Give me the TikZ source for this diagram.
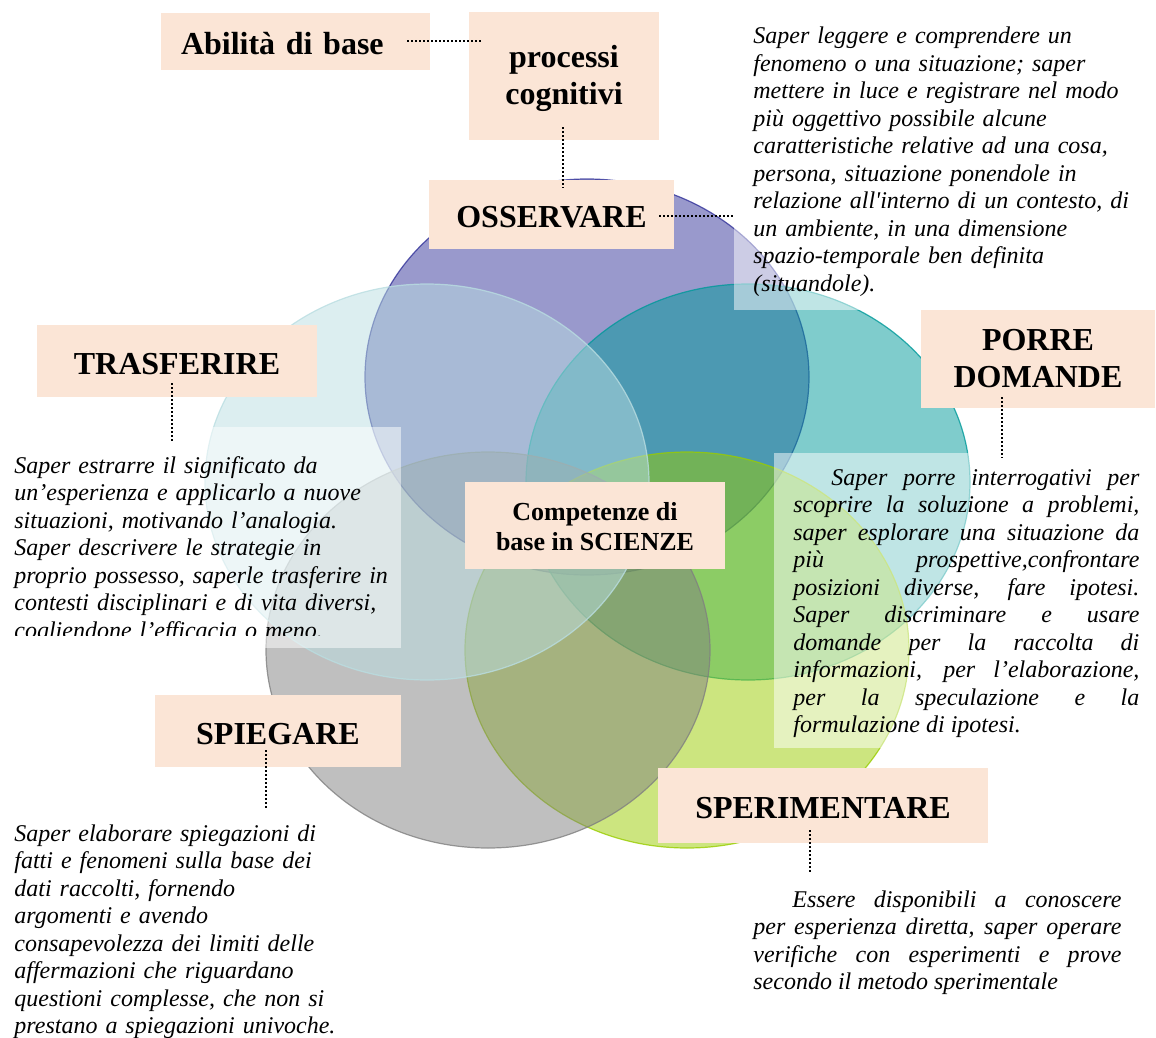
\documentclass[tikz,border=0pt]{standalone}
\usepackage{fontspec}
\setmainfont{Liberation Serif}
\usepackage{tikz}
\usetikzlibrary{calc}

\definecolor{peach}{RGB}{251,229,214}
\definecolor{vpurple}{RGB}{51,51,153}
\definecolor{vteal}{RGB}{0,153,153}
\definecolor{vgreen}{RGB}{153,204,0}
\definecolor{vgrey}{RGB}{128,128,128}
\definecolor{vlight}{RGB}{185,221,225}

\begin{document}
\begin{tikzpicture}[x=0.5pt, y=-0.5pt]
        \tikzset{
            set_circle/.style={fill opacity=0.5, draw opacity=0.8, line width=0.6pt},
            label_box/.style={fill=peach, inner sep=0pt, align=center, font=\fontsize{16pt}{18.5pt}\selectfont\bfseries},
            label_one/.style={label_box, text height=13.5pt},
            desc_text/.style={anchor=base west, inner sep=0pt, align=left, text width=190pt, font=\fontsize{12pt}{13.75pt}\selectfont\itshape},
            desc_just/.style={desc_text, align=justify},
            veil/.style={fill=white, fill opacity=0.5},
            dot_line/.style={line width=1pt, dash pattern=on 1pt off 1pt}
        }
        \useasboundingbox (0,0) rectangle (1156,1038);
        \path[set_circle, fill=vpurple, draw=vpurple] (587,377) ellipse [x radius=222, y radius=198];
        \path[set_circle, fill=vteal, draw=vteal] (748,482) ellipse [x radius=222, y radius=198];
        \path[set_circle, fill=vgreen, draw=vgreen] (687,650) ellipse [x radius=222, y radius=198];
        \path[set_circle, fill=vgrey, draw=vgrey] (488,650) ellipse [x radius=222, y radius=198];
        \path[set_circle, fill=vlight, draw=vlight] (427,482) ellipse [x radius=222, y radius=198];
        \fill[veil] (734,20) rectangle (1140,310);
        \fill[veil] (0,427) rectangle (401,648);
        \fill[veil] (774,453) rectangle (1150,748);
        \node[label_one, minimum width=134.5pt, minimum height=28.5pt, text width=114.5pt, align=left] (abil) at (295.5,41.5) {Abilità di base};
        \node[label_box, minimum width=95pt, minimum height=64pt] (proc) at (564,76) {\rule{0pt}{13.5pt}processi\\cognitivi};
        \node[label_one, minimum width=122.5pt, minimum height=34.5pt] (oss) at (551.5,214.5) {OSSERVARE};
        \node[label_one, minimum width=140pt, minimum height=36pt] (tras) at (177,361) {TRASFERIRE};
        \node[label_box, minimum width=117pt, minimum height=49pt] (porre) at (1038,359) {PORRE\\DOMANDE};
        \node[label_one, minimum width=123pt, minimum height=36pt] (spieg) at (278,731) {SPIEGARE};
        \node[label_one, minimum width=165pt, minimum height=37.5pt] (sper) at (823,805.5) {SPERIMENTARE};
        \node[label_box, minimum width=130pt, minimum height=43.5pt, font=\fontsize{13pt}{15pt}\selectfont\bfseries] (comp) at (595,525) {\rule{0pt}{10.5pt}Competenze di\\base in SCIENZE};
        \node[desc_text] (ossdesc) at (753,44) {Saper leggere e comprendere un\\fenomeno o una situazione; saper\\mettere in luce e registrare nel modo\\più oggettivo possibile alcune\\caratteristiche relative ad una cosa,\\persona, situazione ponendole in\\relazione all\textquotesingle interno di un contesto, di\\un ambiente, in una dimensione\\spazio-temporale ben definita\\(situandole).};
        \begin{scope}
            \clip (0,420) rectangle (401,635);
            \node[desc_text] (trasdesc) at (14,473) {Saper estrarre il significato da\\un’esperienza e applicarlo a nuove\\situazioni, motivando l’analogia.\\Saper descrivere le strategie in\\proprio possesso, saperle trasferire in\\contesti disciplinari e di vita diversi,\\cogliendone l’efficacia o meno.};
        \end{scope}
        \node[desc_just, text width=173pt] (porredesc) at (793,485) {\makebox[\linewidth][s]{\hspace*{19pt}Saper porre interrogativi per}\\\makebox[\linewidth][s]{scoprire la soluzione a problemi,}\\\makebox[\linewidth][s]{saper esplorare una situazione da}\\\makebox[\linewidth][s]{più prospettive,confrontare}\\\makebox[\linewidth][s]{posizioni diverse, fare ipotesi.}\\\makebox[\linewidth][s]{Saper discriminare e usare}\\\makebox[\linewidth][s]{domande per la raccolta di}\\\makebox[\linewidth][s]{informazioni, per l’elaborazione,}\\\makebox[\linewidth][s]{per la speculazione e la}\\formulazione di ipotesi.};
        \node[desc_text] (spiegdesc) at (14,841) {Saper elaborare spiegazioni di\\fatti e fenomeni sulla base dei\\dati raccolti, fornendo\\argomenti e avendo\\consapevolezza dei limiti delle\\affermazioni che riguardano\\questioni complesse, che non si\\prestano a spiegazioni univoche.};
        \node[desc_just, text width=184pt] (sperdesc) at (753,907) {\makebox[\linewidth][s]{\hspace*{19.5pt}Essere disponibili a conoscere}\\\makebox[\linewidth][s]{per esperienza diretta, saper operare}\\\makebox[\linewidth][s]{verifiche con esperimenti e prove}\\secondo il metodo sperimentale};
        \path ($(abil.east)+(-23,0)$) edge[dot_line] ($(abil.east -| proc.west)+(13,0)$);
        \path ($(proc.south)+(-1,-13)$) edge[dot_line] ($(proc.south |- oss.north)+(-1,8)$);
        \path ($(oss.east)+(-15,1.5)$) edge[dot_line] ($(oss.east -| ossdesc.west)+(-20,1.5)$);
        \path ($(tras.south)+(-5,-14)$) edge[dot_line] ($(tras.south |- trasdesc.north)+(-5,-14.5)$);
        \path ($(porre.south)+(-36,-11)$) edge[dot_line] ($(porre.south |- porredesc.north)+(-36,-10.5)$);
        \path ($(spieg.south)+(-12,-17)$) edge[dot_line] ($(spieg.south |- spiegdesc.north)+(-12,-14.5)$);
        \path ($(sper.south)+(-13,-13)$) edge[dot_line] ($(sper.south |- sperdesc.north)+(-13,-17.5)$);
\end{tikzpicture}
\end{document}
